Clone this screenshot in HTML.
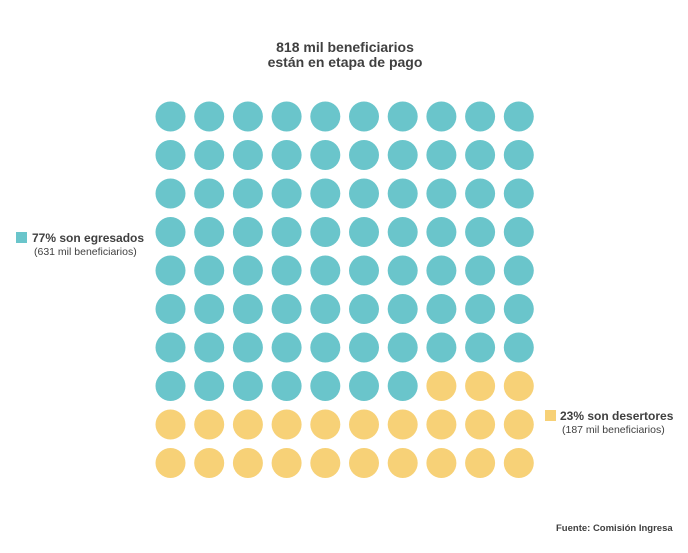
<!DOCTYPE html>
<html><head><meta charset="utf-8"><style>
body{margin:0;background:#fff;}
svg text{font-family:"Liberation Sans",sans-serif;fill:#404040;}
</style></head><body>
<svg width="688" height="548" viewBox="0 0 688 548" xmlns="http://www.w3.org/2000/svg">
<text x="345" y="52" text-anchor="middle" font-size="14" font-weight="bold">818 mil beneficiarios</text>
<text x="345" y="67" text-anchor="middle" font-size="14" font-weight="bold">están en etapa de pago</text>
<g id="g"></g>
<rect x="16" y="232" width="11" height="11" fill="#6ac5cb"/>
<text x="32" y="242" font-size="12" font-weight="bold">77% son egresados</text>
<text x="34" y="255" font-size="10.5">(631 mil beneficiarios)</text>
<rect x="545" y="410" width="11" height="11" fill="#f7d177"/>
<text x="560" y="420" font-size="12" font-weight="bold">23% son desertores</text>
<text x="562" y="433" font-size="10.5">(187 mil beneficiarios)</text>
<text x="556" y="531" font-size="9.5" font-weight="bold">Fuente: Comisión Ingresa</text>
</svg>
<script>
var g=document.getElementById('g'),s='';
for(var r=0;r<10;r++)for(var c=0;c<10;c++){
var idx=r*10+c;var col=idx<77?'#6ac5cb':'#f7d177';
s+='<circle cx="'+(170.5+c*38.7)+'" cy="'+(116.5+r*38.5)+'" r="15" fill="'+col+'"/>';}
g.innerHTML=s;
</script>
</body></html>
